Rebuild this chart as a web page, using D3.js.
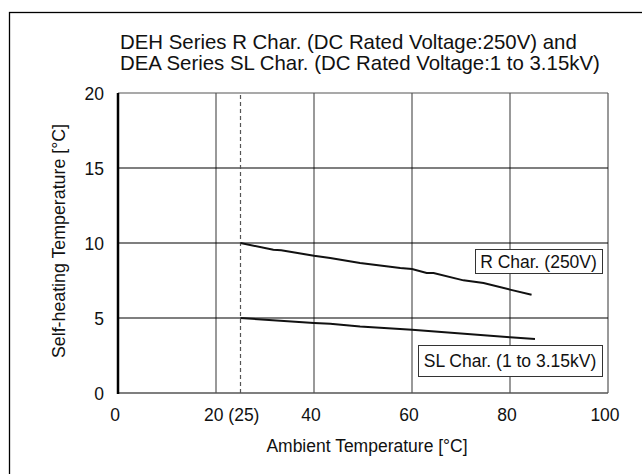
<!DOCTYPE html>
<html>
<head>
<meta charset="utf-8">
<script src="https://cdn.jsdelivr.net/npm/d3@7"></script>
<style>
  body { margin: 0; background: #fff; }
  svg { display: block; font-family: "Liberation Sans", Arial, sans-serif; }
</style>
</head>
<body>
<svg id="chart"></svg>
<script>
// values
const titleLines = [
    'DEH Series R Char. (DC Rated Voltage:250V) and',
    'DEA Series SL Char. (DC Rated Voltage:1 to 3.15kV)'
];
const xTicks = [0, 20, 40, 60, 80, 100];
const xTickLabels = ['0', '20 (25)', '40', '60', '80', '100'];
const yTicks = [0, 5, 10, 15, 20];

const rTemp = [25, 31.7, 33.3, 40, 43.3, 49.4, 57.6, 60, 63, 64.4, 70.5, 74.6, 80, 84.4];
const rHeat = [10, 9.55, 9.51, 9.15, 9.0, 8.67, 8.33, 8.27, 8.0, 8.0, 7.51, 7.33, 6.89, 6.55];

const slTemp = [25, 40, 43.3, 49.4, 60, 80, 85.1];
const slHeat = [5, 4.67, 4.62, 4.44, 4.22, 3.71, 3.6];

const refTemp = 25;

const width = 642;
const height = 474;
const margin = { top: 93, right: 34, bottom: 81, left: 118 };

const svg = d3.select('#chart')
    .attr('width', width)
    .attr('height', height);

// outer frame (runs off the right and bottom edges)
svg.append('rect')
    .attr('x', 9.5)
    .attr('y', 12.5)
    .attr('width', 700)
    .attr('height', 600)
    .attr('fill', 'none')
    .attr('stroke', '#000')
    .attr('stroke-width', 1.3);

const x = d3.scaleLinear()
    .domain([0, 100])
    .range([margin.left, width - margin.right]);

const y = d3.scaleLinear()
    .domain([0, 20])
    .range([height - margin.bottom, margin.top]);

// title
svg.append('g')
    .selectAll('text')
    .data(titleLines)
    .enter()
    .append('text')
    .attr('x', 120)
    .attr('y', (d, i) => 49 + i * 20.5)
    .attr('font-size', '20.4px')
    .attr('fill', '#111')
    .text(d => d);

// vertical grid
svg.append('g')
    .selectAll('line')
    .data(xTicks.slice(1))
    .enter()
    .append('line')
    .attr('x1', d => x(d))
    .attr('x2', d => x(d))
    .attr('y1', y(0))
    .attr('y2', y(20))
    .attr('stroke', '#555')
    .attr('stroke-width', 1.2);

// horizontal grid
svg.append('g')
    .selectAll('line')
    .data(yTicks.slice(1))
    .enter()
    .append('line')
    .attr('x1', x(0))
    .attr('x2', x(100))
    .attr('y1', d => y(d))
    .attr('y2', d => y(d))
    .attr('stroke', d => d === 20 ? '#555' : '#000')
    .attr('stroke-width', 1.2);

// bottom axis line
svg.append('line')
    .attr('x1', x(0))
    .attr('x2', x(100))
    .attr('y1', y(0))
    .attr('y2', y(0))
    .attr('stroke', '#555')
    .attr('stroke-width', 1.5);

// dashed reference at 25 degC
svg.append('line')
    .attr('x1', x(refTemp))
    .attr('x2', x(refTemp))
    .attr('y1', y(0))
    .attr('y2', y(20))
    .attr('stroke', '#555')
    .attr('stroke-width', 1.2)
    .attr('stroke-dasharray', '4,3');

// left axis line, heavier
svg.append('line')
    .attr('x1', x(0))
    .attr('x2', x(0))
    .attr('y1', y(0) + 1)
    .attr('y2', y(20))
    .attr('stroke', '#000')
    .attr('stroke-width', 2.5);

// tick labels
svg.append('g')
    .selectAll('text')
    .data(yTicks)
    .enter()
    .append('text')
    .attr('x', 104)
    .attr('y', d => y(d) + 6.5)
    .attr('text-anchor', 'end')
    .attr('font-size', '17.5px')
    .attr('fill', '#111')
    .text(d => d);

svg.append('g')
    .selectAll('text')
    .data(xTicks)
    .enter()
    .append('text')
    .attr('x', (d, i) => i === 1 ? x(d) - 12 : x(d) - 3)
    .attr('y', 421)
    .attr('text-anchor', (d, i) => i === 1 ? 'start' : 'middle')
    .attr('font-size', '17.5px')
    .attr('fill', '#111')
    .text((d, i) => xTickLabels[i]);

// axis titles
svg.append('text')
    .attr('x', 367)
    .attr('y', 452)
    .attr('text-anchor', 'middle')
    .attr('font-size', '17.5px')
    .attr('fill', '#111')
    .text('Ambient Temperature [°C]');

svg.append('text')
    .attr('transform', 'translate(65,241) rotate(-90)')
    .attr('text-anchor', 'middle')
    .attr('font-size', '17.8px')
    .attr('fill', '#111')
    .text('Self-heating Temperature [°C]');

// curves
const line = d3.line()
    .x(d => x(d[0]))
    .y(d => y(d[1]));

[[rTemp, rHeat], [slTemp, slHeat]].forEach(([t, h]) => {
    svg.append('path')
        .datum(t.map((v, i) => [v, h[i]]))
        .attr('d', line)
        .attr('fill', 'none')
        .attr('stroke', '#111')
        .attr('stroke-width', 2);
});

// series labels in boxes
function boxLabel(label, x0, y0, w, h) {
    const g = svg.append('g');
    g.append('rect')
        .attr('x', x0 + 0.5)
        .attr('y', y0 + 0.5)
        .attr('width', w)
        .attr('height', h)
        .attr('fill', '#fff')
        .attr('stroke', '#333')
        .attr('stroke-width', 1);
    g.append('text')
        .attr('x', x0 + w / 2)
        .attr('y', y0 + h / 2 + 6.5)
        .attr('text-anchor', 'middle')
        .attr('font-size', '17.5px')
        .attr('fill', '#111')
        .text(label);
}

boxLabel('R Char. (250V)', 475, 249, 127, 24);
boxLabel('SL Char. (1 to 3.15kV)', 418, 345, 184, 31);
</script>
</body>
</html>
